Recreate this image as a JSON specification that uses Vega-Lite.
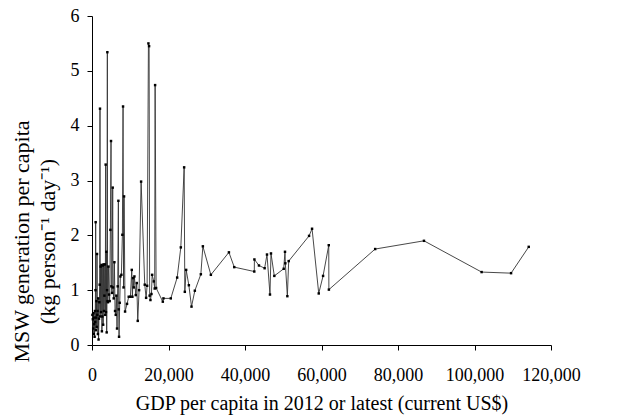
{
  "$schema": "https://vega.github.io/schema/vega-lite/v6.json",
  "autosize": {"type": "none"},
  "padding": {"left": 92, "top": 16, "right": 79, "bottom": 74},
  "width": 459,
  "height": 329,
  "background": "white",
  "config": {
    "view": {"stroke": null},
    "font": "Liberation Serif",
    "axis": {
      "grid": false,
      "domainColor": "black",
      "tickColor": "black",
      "labelColor": "black",
      "titleColor": "black",
      "labelFont": "Liberation Serif",
      "titleFont": "Liberation Serif",
      "labelFontSize": 18,
      "titleFontSize": 20,
      "titleFontWeight": "normal",
      "tickSize": 5,
      "labelFlush": false,
      "labelOverlap": false
    }
  },
  "data": {
    "values": [
      {"gdp": 110, "msw": 0.55}, {"gdp": 220, "msw": 0.47}, {"gdp": 308, "msw": 0.30}, {"gdp": 385, "msw": 0.58},
      {"gdp": 462, "msw": 0.20}, {"gdp": 528, "msw": 0.50}, {"gdp": 605, "msw": 0.38}, {"gdp": 682, "msw": 0.15},
      {"gdp": 770, "msw": 0.62}, {"gdp": 836, "msw": 0.42}, {"gdp": 913, "msw": 1.00}, {"gdp": 957, "msw": 2.24},
      {"gdp": 1012, "msw": 0.27}, {"gdp": 1078, "msw": 0.50}, {"gdp": 1155, "msw": 0.80}, {"gdp": 1232, "msw": 0.33},
      {"gdp": 1309, "msw": 1.66}, {"gdp": 1386, "msw": 0.55}, {"gdp": 1463, "msw": 0.62}, {"gdp": 1540, "msw": 0.20},
      {"gdp": 1628, "msw": 0.85}, {"gdp": 1716, "msw": 0.10}, {"gdp": 1815, "msw": 0.48}, {"gdp": 1925, "msw": 0.78},
      {"gdp": 2013, "msw": 1.10}, {"gdp": 2090, "msw": 4.31}, {"gdp": 2145, "msw": 0.52}, {"gdp": 2255, "msw": 1.43},
      {"gdp": 2365, "msw": 0.60}, {"gdp": 2475, "msw": 1.46}, {"gdp": 2585, "msw": 0.25}, {"gdp": 2695, "msw": 0.52},
      {"gdp": 2805, "msw": 1.45}, {"gdp": 2915, "msw": 0.37}, {"gdp": 3025, "msw": 1.47}, {"gdp": 3135, "msw": 0.62},
      {"gdp": 3245, "msw": 0.90}, {"gdp": 3355, "msw": 1.47}, {"gdp": 3465, "msw": 0.55}, {"gdp": 3575, "msw": 3.29},
      {"gdp": 3652, "msw": 0.60}, {"gdp": 3751, "msw": 1.70}, {"gdp": 3839, "msw": 0.23}, {"gdp": 3927, "msw": 1.00},
      {"gdp": 4015, "msw": 5.34}, {"gdp": 4070, "msw": 0.80}, {"gdp": 4180, "msw": 0.78}, {"gdp": 4290, "msw": 1.43},
      {"gdp": 4455, "msw": 0.92}, {"gdp": 4620, "msw": 0.80}, {"gdp": 4807, "msw": 2.10}, {"gdp": 4972, "msw": 3.72},
      {"gdp": 5060, "msw": 1.07}, {"gdp": 5236, "msw": 0.95}, {"gdp": 5412, "msw": 2.87}, {"gdp": 5500, "msw": 1.05},
      {"gdp": 5676, "msw": 0.85}, {"gdp": 5852, "msw": 1.51}, {"gdp": 6028, "msw": 0.62}, {"gdp": 6204, "msw": 0.55},
      {"gdp": 6369, "msw": 0.90}, {"gdp": 6545, "msw": 0.30}, {"gdp": 6721, "msw": 1.07}, {"gdp": 6897, "msw": 2.63},
      {"gdp": 6985, "msw": 0.65}, {"gdp": 7073, "msw": 0.15}, {"gdp": 7249, "msw": 0.77}, {"gdp": 7425, "msw": 1.25},
      {"gdp": 7678, "msw": 1.28}, {"gdp": 7942, "msw": 2.01}, {"gdp": 8118, "msw": 4.35}, {"gdp": 8250, "msw": 1.05},
      {"gdp": 8382, "msw": 2.71}, {"gdp": 8646, "msw": 0.61}, {"gdp": 9163, "msw": 0.75}, {"gdp": 9603, "msw": 0.88},
      {"gdp": 10043, "msw": 0.88}, {"gdp": 10395, "msw": 1.37}, {"gdp": 10560, "msw": 0.88}, {"gdp": 10736, "msw": 1.22},
      {"gdp": 10912, "msw": 1.05}, {"gdp": 11088, "msw": 1.25}, {"gdp": 11440, "msw": 0.91}, {"gdp": 11704, "msw": 1.13},
      {"gdp": 11957, "msw": 0.44}, {"gdp": 12309, "msw": 1.00}, {"gdp": 12837, "msw": 2.98}, {"gdp": 13794, "msw": 1.10},
      {"gdp": 14146, "msw": 0.86}, {"gdp": 14410, "msw": 1.08}, {"gdp": 14751, "msw": 5.50}, {"gdp": 14927, "msw": 5.45},
      {"gdp": 15070, "msw": 0.90}, {"gdp": 15279, "msw": 0.82}, {"gdp": 15543, "msw": 0.93}, {"gdp": 15719, "msw": 1.28},
      {"gdp": 16148, "msw": 1.16}, {"gdp": 16390, "msw": 1.03}, {"gdp": 16500, "msw": 4.74}, {"gdp": 16764, "msw": 1.04},
      {"gdp": 18513, "msw": 0.79}, {"gdp": 18678, "msw": 0.85}, {"gdp": 20603, "msw": 0.85}, {"gdp": 22264, "msw": 1.23},
      {"gdp": 23221, "msw": 1.78}, {"gdp": 24090, "msw": 3.24}, {"gdp": 24266, "msw": 0.97}, {"gdp": 24618, "msw": 1.37},
      {"gdp": 25322, "msw": 1.09}, {"gdp": 26015, "msw": 0.70}, {"gdp": 26884, "msw": 0.99}, {"gdp": 28457, "msw": 1.29},
      {"gdp": 28985, "msw": 1.80}, {"gdp": 31075, "msw": 1.28}, {"gdp": 35794, "msw": 1.69}, {"gdp": 37191, "msw": 1.42},
      {"gdp": 42427, "msw": 1.34}, {"gdp": 42460, "msw": 1.56}, {"gdp": 43648, "msw": 1.45}, {"gdp": 45133, "msw": 1.40},
      {"gdp": 45749, "msw": 1.65}, {"gdp": 46530, "msw": 0.92}, {"gdp": 46794, "msw": 1.67}, {"gdp": 47663, "msw": 1.26},
      {"gdp": 50116, "msw": 1.39}, {"gdp": 50457, "msw": 1.70}, {"gdp": 50545, "msw": 1.49}, {"gdp": 51073, "msw": 0.89},
      {"gdp": 51425, "msw": 1.53}, {"gdp": 56749, "msw": 1.99}, {"gdp": 57530, "msw": 2.12}, {"gdp": 59279, "msw": 0.94},
      {"gdp": 60412, "msw": 1.26}, {"gdp": 61897, "msw": 1.82}, {"gdp": 61930, "msw": 1.01}, {"gdp": 74030, "msw": 1.75},
      {"gdp": 86790, "msw": 1.90}, {"gdp": 101860, "msw": 1.33}, {"gdp": 109560, "msw": 1.31}, {"gdp": 114180, "msw": 1.79}
    ]
  },
  "encoding": {
    "x": {
      "field": "gdp", "type": "quantitative",
      "scale": {"domain": [0, 120000], "nice": false, "zero": true},
      "axis": {"values": [0, 20000, 40000, 60000, 80000, 100000, 120000], "format": ",d", "title": "GDP per capita in 2012 or latest (current US$)", "labelPadding": 16, "titlePadding": 9}
    },
    "y": {
      "field": "msw", "type": "quantitative",
      "scale": {"domain": [0, 6], "nice": false},
      "axis": {"values": [0, 1, 2, 3, 4, 5, 6], "title": ["MSW generation per capita", "(kg person⁻¹ day⁻¹)"], "labelPadding": 8, "titlePadding": 11, "titleLineHeight": 26, "titleFontSize": 22, "titleY": 225}
    }
  },
  "layer": [
    {"mark": {"type": "line", "color": "#333333", "strokeWidth": 0.9}},
    {"mark": {"type": "point", "shape": "square", "filled": true, "color": "black", "size": 6, "opacity": 1}}
  ]
}
